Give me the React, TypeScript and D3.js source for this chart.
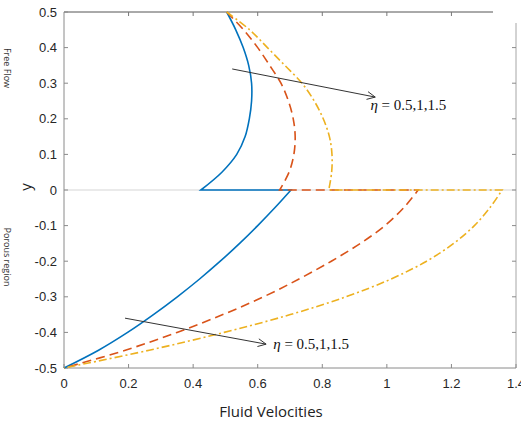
import React from "react";
import * as d3 from "d3";

// Free-flow region (y from 0.5 down to the interface at 0)
const freeY = [0.5, 0.45, 0.4, 0.35, 0.3, 0.25, 0.2, 0.15, 0.1, 0.05, 0];
const freeBlue = [0.504, 0.532, 0.555, 0.572, 0.581, 0.581, 0.574, 0.561, 0.535, 0.489, 0.424];
const freeRed = [0.504, 0.556, 0.6, 0.637, 0.672, 0.695, 0.71, 0.716, 0.712, 0.697, 0.668];
const freeYellow = [0.504, 0.575, 0.63, 0.684, 0.737, 0.775, 0.803, 0.822, 0.83, 0.829, 0.82];

// Porous region (y from the interface at 0 down to -0.5)
const porousY = [0, -0.05, -0.1, -0.15, -0.2, -0.25, -0.3, -0.35, -0.4, -0.45, -0.5];
const porousBlue = [0.703, 0.653, 0.6, 0.544, 0.484, 0.42, 0.351, 0.277, 0.197, 0.107, 0];
const porousRed = [1.097, 1.052, 0.994, 0.918, 0.828, 0.728, 0.618, 0.492, 0.35, 0.19, 0];
const porousYellow = [1.357, 1.319, 1.271, 1.207, 1.123, 1.013, 0.873, 0.701, 0.496, 0.264, 0];

const xTicks = [0, 0.2, 0.4, 0.6, 0.8, 1, 1.2, 1.4];
const xTickLabels = ["0", "0.2", "0.4", "0.6", "0.8", "1", "1.2", "1.4"];
const yTicks = [0.5, 0.4, 0.3, 0.2, 0.1, 0, -0.1, -0.2, -0.3, -0.4, -0.5];
const yTickLabels = ["0.5", "0.4", "0.3", "0.2", "0.1", "0", "-0.1", "-0.2", "-0.3", "-0.4", "-0.5"];

const seriesColors = ["#0072BD", "#D95319", "#EDB120"];
const seriesDash = ["none", "9,5", "8,3,2,3"];

// Arrow annotations: [x0, y0, x1, y1] in data units
const arrowFree = [0.521, 0.34, 0.964, 0.261];
const arrowPorous = [0.189, -0.36, 0.626, -0.433];
const labelFree = [0.949, 0.225];
const labelPorous = [0.648, -0.447];

const W = 521;
const H = 423;
const left = 64;
const right = 516;
const top = 12;
const bottom = 368;

export default function App() {
  const x = d3.scaleLinear().domain([0, 1.4]).range([left, right]);
  const y = d3.scaleLinear().domain([-0.5, 0.5]).range([bottom, top]);

  const line = d3
    .line<[number, number]>()
    .x((d) => x(d[0]))
    .y((d) => y(d[1]))
    .curve(d3.curveCatmullRom.alpha(0.5));

  const freeSets = [freeBlue, freeRed, freeYellow];
  const porousSets = [porousBlue, porousRed, porousYellow];

  const paths = freeSets.map((fv, i) => {
    const fp = freeY.map((yy, k) => [fv[k], yy] as [number, number]);
    const pp = porousY.map((yy, k) => [porousSets[i][k], yy] as [number, number]);
    const a = line(fp) || "";
    const b = (line(pp) || "").replace(/^M/, "L");
    return a + b;
  });

  const arrow = (a: number[], key: string) => {
    const x0 = x(a[0]);
    const y0 = y(a[1]);
    const x1 = x(a[2]);
    const y1 = y(a[3]);
    const ang = Math.atan2(y1 - y0, x1 - x0);
    const len = 9;
    const spread = 0.45;
    const h1 = [x1 - len * Math.cos(ang - spread), y1 - len * Math.sin(ang - spread)];
    const h2 = [x1 - len * Math.cos(ang + spread), y1 - len * Math.sin(ang + spread)];
    return (
      <g key={key} stroke="#333" strokeWidth={1} fill="none">
        <line x1={x0} y1={y0} x2={x1} y2={y1} />
        <polyline points={`${h1[0]},${h1[1]} ${x1},${y1} ${h2[0]},${h2[1]}`} />
      </g>
    );
  };

  const etaLabel = (p: number[], key: string) => (
    <text
      key={key}
      x={x(p[0])}
      y={y(p[1])}
      fontFamily="'Liberation Serif', 'Times New Roman', serif"
      fontSize={15}
      fill="#111"
    >
      <tspan fontStyle="italic">η</tspan>
      <tspan> = 0.5,1,1.5</tspan>
    </text>
  );

  const tickFont = "'Liberation Sans', Arial, sans-serif";

  return (
    <svg
      width={W}
      height={H}
      style={{ position: "absolute", left: 0, top: 0, background: "#fff" }}
    >
      {/* interface line at y = 0 */}
      <line x1={left} x2={right} y1={y(0)} y2={y(0)} stroke="#e3e3e3" strokeWidth={1.5} />

      {/* frame */}
      <line x1={left} x2={493} y1={top} y2={top} stroke="#555" strokeWidth={1} />
      <line x1={right} x2={right} y1={23} y2={bottom} stroke="#a6a6a6" strokeWidth={1} />
      <line x1={left} x2={left} y1={top} y2={bottom} stroke="#8a8a8a" strokeWidth={1} />
      <line x1={left} x2={right} y1={bottom} y2={bottom} stroke="#8a8a8a" strokeWidth={1} />

      {/* x ticks */}
      {xTicks.map((t, i) => (
        <g key={"xt" + i}>
          <line x1={x(t)} x2={x(t)} y1={bottom} y2={bottom - 4} stroke="#8a8a8a" />
          {t > 0 && t < 1.3 && (
            <line x1={x(t)} x2={x(t)} y1={top} y2={top + 4} stroke="#777" />
          )}
          <text
            x={x(t)}
            y={bottom + 20}
            textAnchor="middle"
            fontFamily={tickFont}
            fontSize={13}
            fill="#262626"
          >
            {xTickLabels[i]}
          </text>
        </g>
      ))}

      {/* y ticks */}
      {yTicks.map((t, i) => (
        <g key={"yt" + i}>
          <line x1={left} x2={left + 4} y1={y(t)} y2={y(t)} stroke="#8a8a8a" />
          {t < 0.45 && t > -0.45 && (
            <line x1={right} x2={right - 4} y1={y(t)} y2={y(t)} stroke="#8a8a8a" />
          )}
          <text
            x={left - 7}
            y={y(t) + 4.5}
            textAnchor="end"
            fontFamily={tickFont}
            fontSize={13}
            fill="#262626"
          >
            {yTickLabels[i]}
          </text>
        </g>
      ))}

      {/* velocity profiles */}
      {paths.map((d, i) => (
        <path
          key={"s" + i}
          d={d}
          fill="none"
          stroke={seriesColors[i]}
          strokeWidth={1.6}
          strokeDasharray={seriesDash[i]}
        />
      ))}

      {arrow(arrowFree, "a1")}
      {arrow(arrowPorous, "a2")}
      {etaLabel(labelFree, "l1")}
      {etaLabel(labelPorous, "l2")}

      {/* axis titles */}
      <text
        x={271}
        y={417}
        textAnchor="middle"
        fontFamily="'Open Sans', sans-serif"
        fontSize={15}
        fill="#222"
      >
        Fluid Velocities
      </text>
      <text
        transform={`translate(31, ${y(0) - 3}) rotate(-90)`}
        textAnchor="middle"
        fontFamily="'Open Sans', sans-serif"
        fontSize={15}
        fill="#222"
      >
        y
      </text>
      <text
        transform={`translate(4, 68) rotate(90)`}
        textAnchor="middle"
        fontFamily="'Open Sans', sans-serif"
        fontSize={9}
        fill="#333"
      >
        Free Flow
      </text>
      <text
        transform={`translate(4, 257) rotate(90)`}
        textAnchor="middle"
        fontFamily="'Open Sans', sans-serif"
        fontSize={9}
        fill="#333"
      >
        Porous region
      </text>
    </svg>
  );
}
